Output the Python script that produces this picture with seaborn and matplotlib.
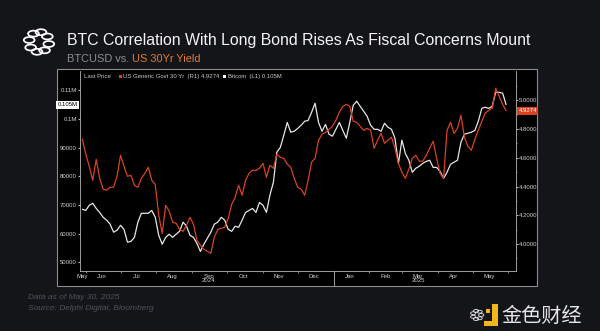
import numpy as np
import pandas as pd
import matplotlib
matplotlib.use("Agg")
import matplotlib.pyplot as plt
import matplotlib.dates as mdates
import matplotlib.transforms as mtransforms
from matplotlib.patches import Rectangle, Circle, Polygon
from matplotlib.ticker import FixedLocator, NullFormatter
import seaborn as sns

# ---- data -------------------------------------------------------------
dates = pd.date_range(end="2025-05-30", periods=123, freq="3D")

btc_usd = [
    68500, 68100, 69900, 70600, 68800, 67400, 65700, 64700, 63300, 60500,
    61200, 62900, 61500, 57000, 57300, 58700, 64000, 67100, 67100, 67100,
    68100, 65700, 59400, 56300, 58700, 59800, 58700, 59800, 60800, 64000,
    62600, 59400, 58700, 56600, 53800, 56300, 58400, 60500, 63300, 64000,
    65700, 64700, 61500, 60800, 62600, 62200, 64700, 67400, 68100, 68800,
    67400, 70900, 69900, 67400, 73400, 77900, 88400, 90100, 94300, 98800,
    95400, 95700, 96700, 97800, 99200, 99500, 102300, 105500, 98800, 95700,
    98100, 94700, 94000, 96400, 98800, 96000, 93300, 98800, 104800, 106200,
    104400, 102700, 100900, 97800, 96400, 96400, 95700, 98500, 97100, 96400,
    93300, 84500, 92600, 88000, 85600, 81400, 82800, 83500, 84500, 85200,
    85600, 83100, 83100, 81700, 79300, 81400, 84200, 84900, 85600, 91900,
    94700, 95000, 95400, 96000, 99200, 103700, 104100, 103700, 104400, 109300,
    109300, 109000, 105000,
]

us30y_yield = [
    4.729, 4.624, 4.541, 4.443, 4.589, 4.457, 4.381, 4.374, 4.395, 4.395,
    4.471, 4.617, 4.541, 4.471, 4.478, 4.409, 4.395, 4.457, 4.492, 4.534,
    4.443, 4.415, 4.200, 4.074, 4.269, 4.228, 4.151, 4.144, 4.102, 4.088,
    4.130, 4.186, 4.137, 4.026, 3.991, 3.963, 3.949, 3.935, 4.047, 4.102,
    4.109, 4.116, 4.179, 4.276, 4.325, 4.409, 4.339, 4.443, 4.492, 4.513,
    4.513, 4.527, 4.562, 4.464, 4.548, 4.527, 4.624, 4.603, 4.596, 4.555,
    4.534, 4.457, 4.395, 4.381, 4.339, 4.443, 4.569, 4.596, 4.722, 4.763,
    4.777, 4.798, 4.819, 4.861, 4.917, 4.958, 4.972, 4.958, 4.854, 4.847,
    4.819, 4.791, 4.805, 4.791, 4.666, 4.722, 4.770, 4.701, 4.722, 4.743,
    4.666, 4.562, 4.499, 4.457, 4.520, 4.596, 4.617, 4.576, 4.576, 4.617,
    4.666, 4.715, 4.596, 4.492, 4.457, 4.791, 4.847, 4.770, 4.805, 4.896,
    4.743, 4.680, 4.652, 4.729, 4.791, 4.854, 4.910, 4.930, 4.944, 5.084,
    5.028, 4.972, 4.9274,
]

btc_ticks = [50000, 60000, 70000, 80000, 90000, 100000, 110000]
btc_tick_labels = ["50000", "60000", "70000", "80000", "90000", "0.1M", "0.11M"]
yield_ticks = [4.0, 4.2, 4.4, 4.6, 4.8, 5.0]
month_names = ["May", "Jun", "Jul", "Aug", "Sep", "Oct", "Nov", "Dec",
               "Jan", "Feb", "Mar", "Apr", "May"]
year_labels = {"2024": "2024-09-15", "2025": "2025-03-15"}

df = pd.DataFrame({"date": dates, "btc": btc_usd, "yield": us30y_yield})

# ---- style -------------------------------------------------------------
sns.set_style("dark")
plt.rcParams["font.family"] = ["Liberation Sans", "DejaVu Sans"]

BG = "#141519"
RED = "#d9421f"
WHITE_LINE = "#e6e6e6"
AXIS = "#b5b5b5"
TICK_TXT = "#d2d2d2"

W, H = 600, 331
fig = plt.figure(figsize=(W / 100, H / 100), dpi=100, facecolor=BG)


def fx(px):
    return px / W


def fy(py):
    return 1 - py / H


# chart panel with thin border (kept behind the axes)
fig.patches.append(Rectangle((fx(57), fy(286)), fx(537) - fx(57), fy(69) - fy(286),
                             transform=fig.transFigure, facecolor="black",
                             edgecolor="#8c8c8c", linewidth=0.8, zorder=-5))

ax = fig.add_axes([fx(80), fy(271), fx(515.7) - fx(80), fy(71) - fy(271)])
ax.set_zorder(1)
ax.set_facecolor("black")
ax2 = ax.twinx()
ax2.set_zorder(2)

sns.lineplot(data=df, x="date", y="btc", ax=ax, color=WHITE_LINE, linewidth=0.9)
sns.lineplot(data=df, x="date", y="yield", ax=ax2, color=RED, linewidth=0.9)

ax.set_xlim(pd.Timestamp("2024-05-27"), pd.Timestamp("2025-06-07 07:00"))
ax.set_ylim(46970, 116730)
ax2.set_ylim(3.812, 5.204)
ax.set_xlabel("")
ax.set_ylabel("")
ax2.set_ylabel("")
ax.grid(False)
ax2.grid(False)

for a in (ax, ax2):
    for s in a.spines.values():
        s.set_visible(False)
ax.spines["left"].set_visible(True)
ax.spines["bottom"].set_visible(True)
ax2.spines["right"].set_visible(True)
for s in (ax.spines["left"], ax.spines["bottom"], ax2.spines["right"]):
    s.set_color(AXIS)
    s.set_linewidth(0.6)

# left axis: bitcoin
ax.yaxis.set_major_locator(FixedLocator(btc_ticks))
ax.set_yticklabels(btc_tick_labels)
ax.tick_params(axis="y", left=True, direction="out", length=1.6, width=0.8,
               color=AXIS, labelcolor=TICK_TXT, labelsize=4.3, pad=0.8)

# right axis: 30y yield
ax2.yaxis.set_major_locator(FixedLocator(yield_ticks))
ax2.set_yticklabels([f"{v:.4f}" for v in yield_ticks])
ax2.yaxis.set_minor_locator(FixedLocator([3.9, 4.1, 4.3, 4.5, 4.7, 4.9, 5.1]))
ax2.tick_params(axis="y", which="major", right=True, direction="out", length=1.6,
                width=0.8, color=AXIS, labelcolor=TICK_TXT, labelsize=4.3, pad=0.8)
ax2.tick_params(axis="y", which="minor", right=True, direction="out", length=1.0,
                width=0.5, color=AXIS)

# bottom axis: month boundaries as small ticks, month names mid-month
month_starts = pd.date_range("2024-06-01", "2025-06-01", freq="MS")
label_dates = [pd.Timestamp("2024-05-29")] + list(
    pd.date_range("2024-06-01", "2025-05-01", freq="MS") + pd.Timedelta(days=14))
ax.xaxis.set_major_locator(FixedLocator(mdates.date2num(label_dates)))
ax.set_xticklabels(month_names)
ax.xaxis.set_minor_locator(FixedLocator(mdates.date2num(month_starts)))
ax.xaxis.set_minor_formatter(NullFormatter())
ax.tick_params(axis="x", which="major", bottom=True, length=0, labelsize=4.3,
               labelcolor=TICK_TXT, pad=2.2)
ax.tick_params(axis="x", which="minor", bottom=True, direction="out", length=1.5,
               width=0.5, color=AXIS)

xblend = mtransforms.blended_transform_factory(ax.transData, ax.transAxes)
for yr, d in year_labels.items():
    ax.text(mdates.date2num(pd.Timestamp(d)), -0.05, yr, transform=xblend,
            ha="center", va="center", fontsize=4.3, color=TICK_TXT)
sep = mdates.date2num(pd.Timestamp("2025-01-01"))
ax.plot([sep, sep], [0, -0.075], transform=xblend, color=AXIS, lw=0.6, clip_on=False)

# last-value badges
last_btc = btc_usd[-1]
last_yield = us30y_yield[-1]
btc_label = f"{last_btc / 1e6:.3f}M"
yield_label = f"{last_yield:.4f}"
lblend = mtransforms.blended_transform_factory(ax.transAxes, ax.transData)
ax.text(-0.006, last_btc, btc_label, transform=lblend, ha="right", va="center",
        fontsize=4.3, color="black",
        bbox=dict(facecolor="white", edgecolor="none", boxstyle="square,pad=0.25"))
rblend = mtransforms.blended_transform_factory(ax2.transAxes, ax2.transData)
ax2.text(1.006, last_yield, yield_label, transform=rblend, ha="left", va="center",
         fontsize=4.3, color="white",
         bbox=dict(facecolor=RED, edgecolor="none", boxstyle="square,pad=0.25"))

# legend row
LEG_Y = fy(76.5)
fig.text(fx(84), LEG_Y, "Last Price", fontsize=4.3, color="#c8c8c8", va="center", zorder=5)
fig.patches.append(Rectangle((fx(118.5), fy(78.3)), fx(3.2), fy(0) - fy(3.2),
                             transform=fig.transFigure, facecolor=RED, edgecolor="none",
                             zorder=5))
fig.text(fx(123), LEG_Y, f"US Generic Govt 30 Yr  (R1) {yield_label}", fontsize=4.3,
         color="#c8c8c8", va="center", zorder=5)
fig.patches.append(Rectangle((fx(223), fy(78.3)), fx(3.2), fy(0) - fy(3.2),
                             transform=fig.transFigure, facecolor="white", edgecolor="none",
                             zorder=5))
fig.text(fx(228), LEG_Y, f"Bitcoin  (L1) {btc_label}", fontsize=4.3,
         color="#c8c8c8", va="center", zorder=5)

# header logo: ring of interlocking loops
cx, cy = 39, 42
for ang in np.linspace(0, 2 * np.pi, 8, endpoint=False):
    px_ = cx + 10.0 * np.cos(ang + 0.2)
    py_ = cy + 10.0 * np.sin(ang + 0.2)
    fig.patches.append(Circle((fx(px_), fy(py_)), radius=fx(5.4),
                              transform=fig.transFigure, facecolor="none",
                              edgecolor="white", linewidth=1.25))

# header text
fig.text(fx(67), fy(40), "BTC Correlation With Long Bond Rises As Fiscal Concerns Mount",
         fontsize=11.4, color="#f4f4f4", va="center", ha="left")
sub1 = fig.text(fx(67), fy(59), "BTCUSD vs.", fontsize=7.9, color="#8d8d8d",
                va="center", ha="left")
fig.canvas.draw()
bb = sub1.get_window_extent(fig.canvas.get_renderer())
fig.text((bb.x1 + 3) / W, fy(59), "US 30Yr Yield", fontsize=7.9, color="#e07c2a",
         va="center", ha="left")

# footer
fig.text(fx(28), fy(297.5), "Data as of May 30, 2025", fontsize=6, style="italic",
         color="#4d525b", va="center")
fig.text(fx(28), fy(309), "Source: Delphi Digital, Bloomberg", fontsize=6,
         style="italic", color="#4d525b", va="center")

# publisher mark, lower right
for ang in np.linspace(0, 2 * np.pi, 7, endpoint=False):
    fig.patches.append(Circle((fx(477 + 4.2 * np.cos(ang)), fy(315 + 4.2 * np.sin(ang))),
                              radius=fx(2.6), transform=fig.transFigure,
                              facecolor="none", edgecolor="#e8e8e8", linewidth=0.6))
YEL = "#f3b71b"
fig.patches.append(Polygon([(fx(492), fy(304)), (fx(497.5), fy(304)), (fx(497.5), fy(326)),
                            (fx(484), fy(326)), (fx(484), fy(321)), (fx(492), fy(321))],
                           closed=True, transform=fig.transFigure, facecolor=YEL,
                           edgecolor="none"))
fig.patches.append(Rectangle((fx(486), fy(313)), fx(4), fy(0) - fy(4),
                             transform=fig.transFigure, facecolor=YEL, edgecolor="none"))
fig.text(fx(501), fy(316), "金色财经", fontsize=14.5, color="#e6e6e6",
         family=["Noto Sans CJK SC", "DejaVu Sans"], va="center", ha="left")

fig.savefig("out.png", dpi=100, facecolor=BG)
